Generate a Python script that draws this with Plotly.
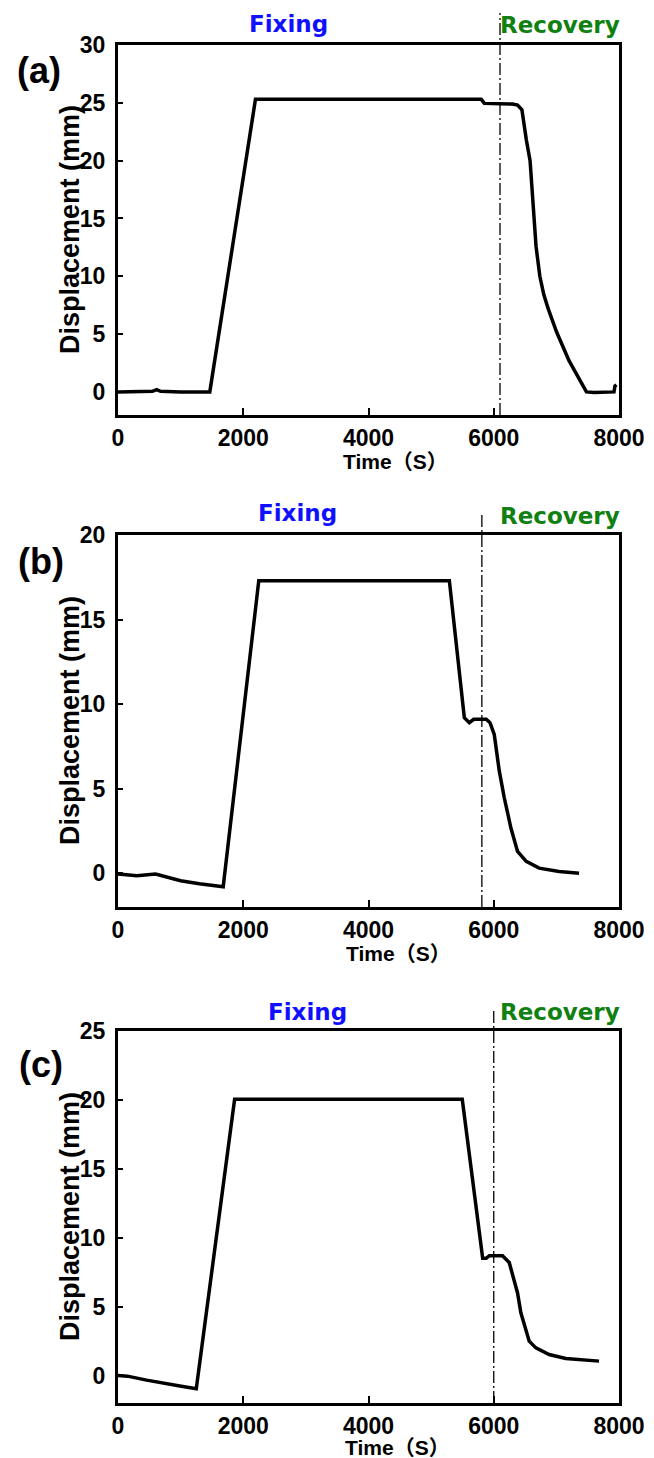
import plotly.graph_objects as go

# ---------------- data ----------------
time_a = [0, 300, 550, 617, 680, 1000, 1466, 2195, 3000, 4000, 5000, 5800, 5850,
          6000, 6300, 6380, 6450, 6520, 6580, 6675, 6736, 6800, 6869, 7002, 7100,
          7202, 7335, 7400, 7480, 7600, 7800, 7920, 7935, 7960]
disp_a = [0.0, 0.0, 0.05, 0.2, 0.05, 0.0, 0.0, 25.3, 25.3, 25.3, 25.3, 25.3, 24.95,
          24.95, 24.9, 24.8, 24.4, 21.8, 20.0, 12.6, 10.0, 8.4, 7.2, 5.2, 3.9,
          2.7, 1.4, 0.8, 0.0, -0.05, 0.0, 0.0, 0.5, 0.6]

time_b = [0, 300, 600, 800, 1000, 1300, 1680, 2248, 3000, 4000, 5000, 5291, 5530,
          5610, 5680, 5880, 5940, 6008, 6088, 6168, 6274, 6380, 6518, 6725, 7044, 7363]
disp_b = [-0.05, -0.15, -0.05, -0.25, -0.45, -0.62, -0.8, 17.3, 17.3, 17.3, 17.3, 17.3, 9.2,
          8.9, 9.1, 9.1, 8.9, 8.2, 6.05, 4.46, 2.67, 1.29, 0.7, 0.3, 0.1, 0.0]

time_c = [0, 150, 457, 725, 988, 1250, 1862, 3000, 4000, 5000, 5497, 5823, 5880,
          5930, 6140, 6247, 6327, 6380, 6433, 6513, 6566, 6673, 6884, 7150, 7681]
disp_c = [0.0, -0.05, -0.34, -0.58, -0.77, -0.97, 20.05, 20.05, 20.05, 20.05, 20.05, 8.5, 8.5,
          8.69, 8.69, 8.2, 6.95, 5.99, 4.55, 3.33, 2.49, 2.0, 1.52, 1.23, 1.04]

recovery_start = [6100, 5810, 6000]
y_ranges = [[-2, 30], [-2, 20], [-2, 25]]
x_range = [0, 8000]
x_ticks = [0, 2000, 4000, 6000, 8000]
y_ticks = [[0, 5, 10, 15, 20, 25, 30], [0, 5, 10, 15, 20], [0, 5, 10, 15, 20, 25]]
panel_labels = ["(a)", "(b)", "(c)"]
x_title = "Time（S）"
y_title = "Displacement (mm)"
phase_labels = ["Fixing", "Recovery"]

# ---------------- layout helpers ----------------
W, H = 654, 1458
FONT = "Liberation Sans, Arial, Noto Sans CJK SC, sans-serif"
FONT_WIDE = "DejaVu Sans, Verdana, sans-serif"

def px_x(p):
    return p / W

def px_y(p):
    return 1 - p / H

# pixel boxes of each panel (top, bottom)
boxes = [(45, 415), (535, 907), (1031, 1403)]
x_left, x_right = 118, 619

series = [(time_a, disp_a), (time_b, disp_b), (time_c, disp_c)]

fig = go.Figure()
layout = dict(
    width=W, height=H,
    margin=dict(l=0, r=0, t=0, b=0),
    paper_bgcolor="white", plot_bgcolor="white",
    showlegend=False,
    font=dict(family=FONT, color="black"),
)

annotations = []
shapes = []

fixing_pos = [(288, 24), (297, 513), (307, 1012)]
recovery_pos = [(560, 25), (560, 516), (560, 1012)]
label_pos = [(39, 70), (41, 561), (41, 1064)]
xtitle_pos = [(395, 461), (398, 953), (397, 1447)]
vline_top = [13, 513, 1010]

for i, ((t, d), (top, bot)) in enumerate(zip(series, boxes)):
    sfx = "" if i == 0 else str(i + 1)
    xa, ya = "x" + sfx, "y" + sfx
    fig.add_trace(go.Scatter(x=t, y=d, mode="lines", xaxis=xa, yaxis=ya,
                             line=dict(color="black", width=3.5)))
    axis_common = dict(
        showline=True, linewidth=3, linecolor="black", mirror=True,
        showgrid=False, zeroline=False, automargin=False,
        ticks="inside", tickcolor="black", tickwidth=2,
        tickfont=dict(family=FONT, size=23, color="black", weight="bold"),
    )
    layout["xaxis" + sfx] = dict(
        axis_common, domain=[px_x(x_left), px_x(x_right)], anchor=ya,
        range=x_range, tickvals=x_ticks, ticklen=7, ticklabelstandoff=0,
    )
    layout["yaxis" + sfx] = dict(
        axis_common, domain=[px_y(bot), px_y(top)], anchor=xa,
        range=y_ranges[i], tickvals=y_ticks[i], ticklen=5, ticklabelstandoff=5,
    )
    # vertical dash-dot separator
    ext = 1 + (top - vline_top[i]) / (bot - top)
    shapes.append(dict(type="line", xref=xa, yref=ya + " domain",
                       x0=recovery_start[i], x1=recovery_start[i], y0=0, y1=ext,
                       line=dict(color="black", width=1.3, dash="12px,3px,2px,3px")))
    # annotations
    annotations.append(dict(text=phase_labels[0], xref="paper", yref="paper",
                            x=px_x(fixing_pos[i][0]), y=px_y(fixing_pos[i][1]),
                            showarrow=False, xanchor="center", yanchor="middle",
                            font=dict(family=FONT_WIDE, size=23, color="#1010ff", weight="bold")))
    annotations.append(dict(text=phase_labels[1], xref="paper", yref="paper",
                            x=px_x(recovery_pos[i][0]), y=px_y(recovery_pos[i][1]),
                            showarrow=False, xanchor="center", yanchor="middle",
                            font=dict(family=FONT_WIDE, size=23, color="#108010", weight="bold")))
    annotations.append(dict(text=panel_labels[i], xref="paper", yref="paper",
                            x=px_x(label_pos[i][0]), y=px_y(label_pos[i][1]),
                            showarrow=False, xanchor="center", yanchor="middle",
                            font=dict(family=FONT, size=36, color="black", weight="bold")))
    annotations.append(dict(text=x_title, xref="paper", yref="paper",
                            x=px_x(xtitle_pos[i][0]), y=px_y(xtitle_pos[i][1]),
                            showarrow=False, xanchor="center", yanchor="middle",
                            font=dict(family=FONT, size=21, color="black", weight="bold")))
    annotations.append(dict(text=y_title, xref="paper", yref="paper",
                            x=px_x(70), y=px_y((top + bot) / 2), textangle=-90,
                            showarrow=False, xanchor="center", yanchor="middle",
                            font=dict(family=FONT, size=27, color="black", weight="bold")))

layout["annotations"] = annotations
layout["shapes"] = shapes
fig.update_layout(**layout)
fig.write_html("out.html", config={"displayModeBar": False},
               post_script="document.body.style.margin='0px';")
